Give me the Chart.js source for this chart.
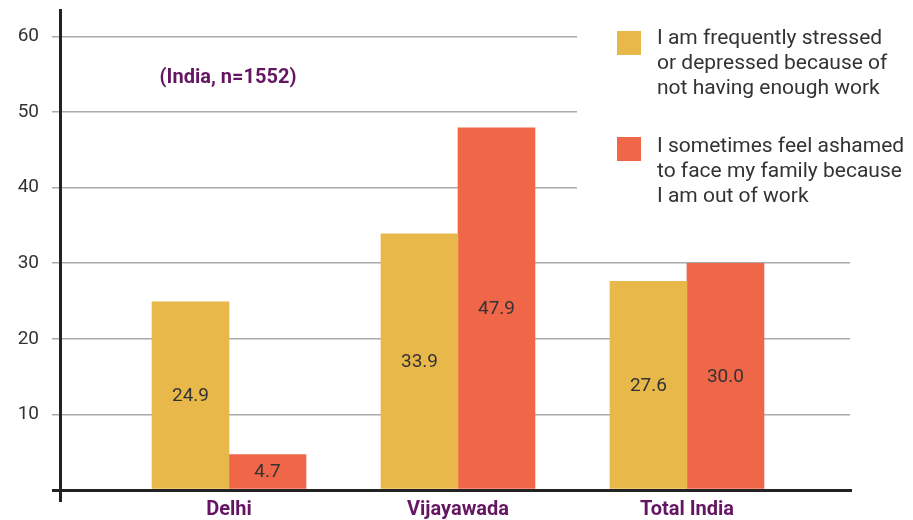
<!DOCTYPE html>
<html>
<head>
<meta charset="utf-8">
<script src="https://cdn.jsdelivr.net/npm/chart.js@4"></script>
<style>
  html, body { margin: 0; padding: 0; background: #fff; }
  #wrap { width: 913px; height: 520px; }
</style>
</head>
<body>
<div id="wrap"><canvas id="chart" width="913" height="520"></canvas></div>
<script>
// ---- data ----
const cities = ["Delhi", "Vijayawada", "Total India"];
const stressed = [24.9, 33.9, 27.6];
const ashamed = [4.7, 47.9, 30.0];
const yTicks = [0, 10, 20, 30, 40, 50, 60];
const seriesNames = [
  ["I am frequently stressed", "or depressed because of", "not having enough work"],
  ["I sometimes feel ashamed", "to face my family because", "I am out of work"]
];
const note = "(India, n=1552)";

const FONT = "Roboto, 'DejaVu Sans', sans-serif";
const YELLOW = "#e8b84a";
const RED = "#f06649";
const PURPLE = "#651663";
const TEXT = "#333333";

// value printed in the middle of each bar
const barValues = {
  id: "barValues",
  afterDatasetsDraw(chart) {
    const ctx = chart.ctx;
    ctx.save();
    ctx.font = "19px " + FONT;
    ctx.fillStyle = TEXT;
    ctx.textAlign = "center";
    ctx.textBaseline = "middle";
    chart.data.datasets.forEach((ds, di) => {
      chart.getDatasetMeta(di).data.forEach((bar, i) => {
        ctx.fillText(ds.data[i].y.toFixed(1), bar.x, (bar.y + bar.base) / 2 + 1);
      });
    });
    ctx.restore();
  }
};

// note + legend box (white, sits over the gridlines)
const sideText = {
  id: "sideText",
  afterDraw(chart) {
    const ctx = chart.ctx;
    ctx.save();
    ctx.font = "bold 20px " + FONT;
    ctx.fillStyle = PURPLE;
    ctx.textAlign = "center";
    ctx.textBaseline = "middle";
    ctx.fillText(note, 228, 78);

    ctx.fillStyle = "#fff";
    ctx.fillRect(577, 14, 336, 200);
    ctx.font = "21px " + FONT;
    ctx.textAlign = "left";
    chart.data.datasets.forEach((ds, k) => {
      ctx.fillStyle = ds.backgroundColor;
      ctx.fillRect(617, 31 + k * 106, 24, 24);
      ctx.fillStyle = TEXT;
      ds.label.forEach((line, j) => {
        ctx.fillText(line, 657, 39 + k * 108 + j * 25);
      });
    });
    ctx.restore();
  }
};

const toPoints = arr => arr.map((v, i) => ({ x: i + 1, y: v }));

new Chart(document.getElementById("chart"), {
  type: "bar",
  data: {
    datasets: [
      { label: seriesNames[0], data: toPoints(stressed), backgroundColor: YELLOW, barThickness: 77 },
      { label: seriesNames[1], data: toPoints(ashamed), backgroundColor: RED, barThickness: 77 }
    ]
  },
  options: {
    responsive: false,
    animation: false,
    layout: { padding: { top: 10, right: 63, left: 0, bottom: 0 } },
    plugins: {
      legend: { display: false },
      tooltip: { enabled: false }
    },
    scales: {
      x: {
        type: "linear",
        offset: false,
        min: 0.262,
        max: 3.712,
        z: 1,
        afterBuildTicks(scale) {
          scale.ticks = [{ value: scale.min }].concat(cities.map((c, i) => ({ value: i + 1 })));
        },
        afterFit(scale) {
          scale.height = 30;
          scale.paddingLeft = 0;
          scale.paddingRight = 0;
        },
        ticks: {
          callback: v => cities[v - 1] || "",
          font: { family: FONT, size: 20, weight: "bold" },
          color: PURPLE,
          padding: -4,
          maxRotation: 0,
          autoSkip: false
        },
        grid: {
          offset: false,
          drawOnChartArea: false,
          drawTicks: true,
          tickLength: 12,
          color: c => c.index === 0 ? "#222" : "rgba(0,0,0,0)",
          lineWidth: 3
        },
        border: { display: true, color: "#222", width: 3 }
      },
      y: {
        min: 0,
        max: 63.5,
        afterBuildTicks(scale) {
          scale.ticks = yTicks.map(v => ({ value: v }));
        },
        afterFit(scale) {
          scale.width = 60;
          scale.paddingTop = 0;
          scale.paddingBottom = 0;
        },
        ticks: {
          callback: v => v === 0 ? "" : v,
          font: { family: FONT, size: 19 },
          color: TEXT,
          padding: 13
        },
        grid: {
          color: c => c.tick && c.tick.value === 0 ? "#222" : "#aaaaaa",
          lineWidth: c => c.tick && c.tick.value === 0 ? 3 : 1.5,
          tickLength: 8
        },
        border: { display: true, color: "#222", width: 3 }
      }
    }
  },
  plugins: [barValues, sideText]
});
</script>
</body>
</html>
